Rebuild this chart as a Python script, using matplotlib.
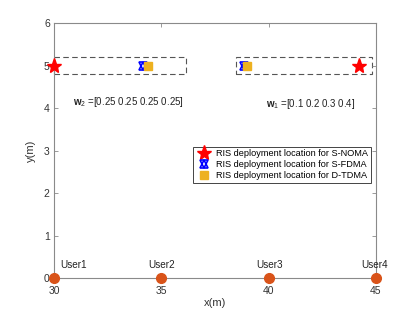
import matplotlib
matplotlib.use("Agg")
import matplotlib.pyplot as plt
from matplotlib.patches import Rectangle

user_x = [30, 35, 40, 45]
user_y = [0, 0, 0, 0]
user_labels = ["User1", "User2", "User3", "User4"]

noma_x = [30, 44.2]
noma_y = [5, 5]
fdma_x = [34.15, 38.85]
fdma_y = [5, 5]
tdma_x = [34.4, 39.0]
tdma_y = [5, 5]

boxes = [(30, 4.8, 6.15, 0.4), (38.5, 4.8, 6.3, 0.4)]
w_texts = [(30.9, 4.15, r"$\mathbf{w}_2$ =[0.25 0.25 0.25 0.25]"),
           (39.9, 4.1, r"$\mathbf{w}_1$ =[0.1 0.2 0.3 0.4]")]

plt.rcParams['font.family'] = ['Liberation Sans', 'DejaVu Sans']
plt.rcParams['mathtext.fontset'] = 'custom'
plt.rcParams['mathtext.rm'] = 'Liberation Sans'
plt.rcParams['mathtext.bf'] = 'Liberation Sans:bold'
plt.rcParams['mathtext.it'] = 'Liberation Sans:italic'

fig = plt.figure(figsize=(4.15, 3.12), dpi=100)
ax = fig.add_axes([0.130, 0.109, 0.776, 0.816])
ax.set_xlim(30, 45)
ax.set_ylim(0, 6)
ax.set_xticks([30, 35, 40, 45])
ax.set_yticks([0, 1, 2, 3, 4, 5, 6])
axc = '#8a8a8a'
for s in ax.spines.values():
    s.set_color(axc)
    s.set_linewidth(0.8)
ax.tick_params(direction='in', length=3, width=0.6, colors=axc, labelcolor='#333333',
               labelsize=7.5, top=True, right=True)
ax.tick_params(axis='x', pad=6)
ax.tick_params(axis='y', pad=3)
ax.set_xlabel("x(m)", fontsize=8, color='#333333', labelpad=1)
ax.set_ylabel("y(m)", fontsize=8, color='#333333', labelpad=6)

for (bx, by, bw, bh) in boxes:
    ax.add_patch(Rectangle((bx, by), bw, bh, fill=False, ls=(0, (5, 3)),
                           lw=0.8, ec='#555555', clip_on=False))

h_noma, = ax.plot(noma_x, noma_y, ls='none', marker='*', ms=11, color='red', mec='red',
                  clip_on=False, zorder=5)
h_f1, = ax.plot(fdma_x, fdma_y, ls='none', marker='^', ms=6, mfc='none', mec='blue',
                mew=1.2, clip_on=False, zorder=4)
h_f2, = ax.plot(fdma_x, fdma_y, ls='none', marker='v', ms=6, mfc='none', mec='blue',
                mew=1.2, clip_on=False, zorder=4)
h_tdma, = ax.plot(tdma_x, tdma_y, ls='none', marker='s', ms=6, color='#EDB120', mec='#EDB120',
                  clip_on=False, zorder=4)

ax.plot(user_x, user_y, ls='none', marker='o', ms=7, color='#D95319', clip_on=False, zorder=6)
offsets = [0.3, -0.6, -0.6, -0.7]
for x, lab, off in zip(user_x, user_labels, offsets):
    ax.text(x + off, 0.24, lab, fontsize=7.2, color='#222222')

for tx, ty, t in w_texts:
    ax.text(tx, ty, t, fontsize=7, color='#222222', va='center')

leg = ax.legend([h_noma, (h_f1, h_f2), h_tdma],
                ['RIS deployment location for S-NOMA',
                 'RIS deployment location for S-FDMA',
                 'RIS deployment location for D-TDMA'],
                loc='upper right', bbox_to_anchor=(0.985, 0.516), fontsize=6.6,
                frameon=True, fancybox=False, edgecolor='#444444', framealpha=1,
                borderpad=0.3, handletextpad=0.6, labelspacing=0.2, handlelength=1.6,
                borderaxespad=0)
leg.get_frame().set_linewidth(0.7)

fig.savefig("out.png", dpi=100)
